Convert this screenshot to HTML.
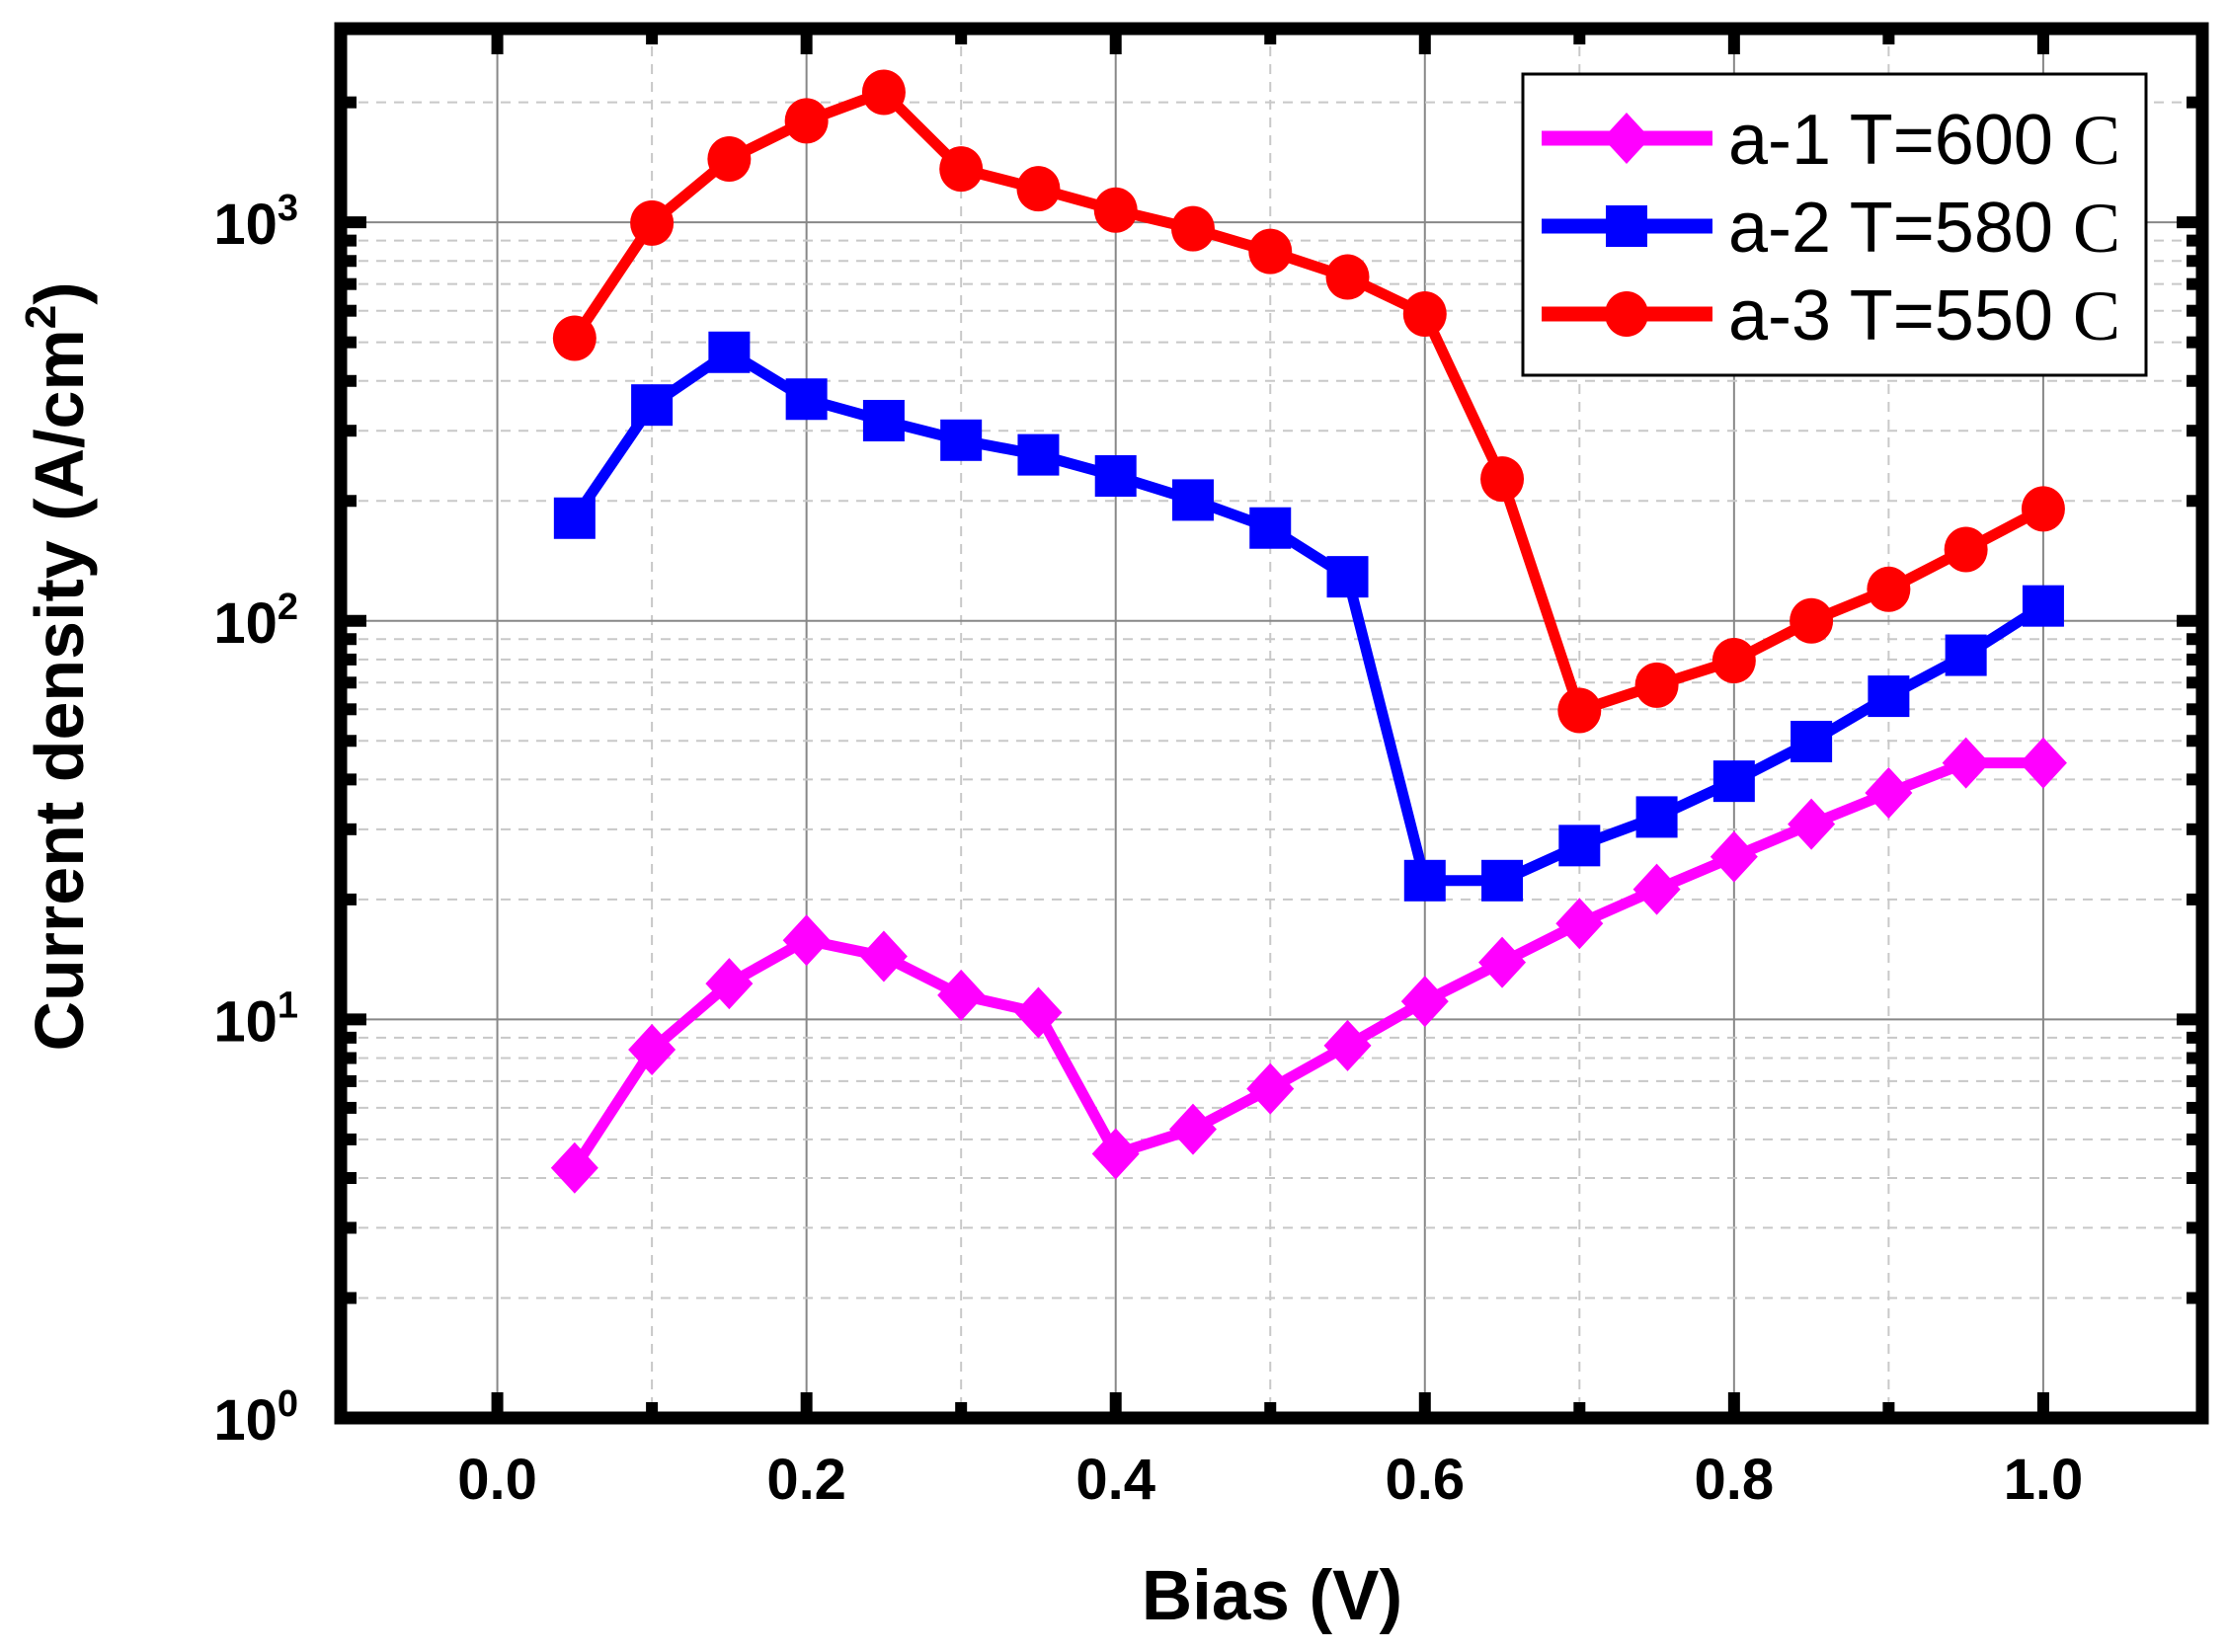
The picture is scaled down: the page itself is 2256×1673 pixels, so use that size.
<!DOCTYPE html>
<html><head><meta charset="utf-8"><style>
html,body{margin:0;padding:0;background:#fff;}
svg{display:block;font-family:"Liberation Sans",sans-serif;}
</style></head><body>
<svg id="chart" width="2256" height="1673" viewBox="0 0 2256 1673" xmlns="http://www.w3.org/2000/svg">
<g id="grid"></g>
<g id="series"></g>
<g id="frame"></g>
<g id="labels"></g>
<text x="1288" y="1640" font-size="71" font-weight="bold" text-anchor="middle">Bias (V)</text>
<text transform="translate(84,675) rotate(-90)" font-size="70" font-weight="bold" text-anchor="middle">Current density (A/cm<tspan font-size="44" dy="-28">2</tspan><tspan dy="28">)</tspan></text>
<g id="legend"></g>
</svg>
<script>
const biasValues = [0.05,0.1,0.15,0.2,0.25,0.3,0.35,0.4,0.45,0.5,0.55,0.6,0.65,0.7,0.75,0.8,0.85,0.9,0.95,1.0];
const seriesA1 = [4.24,8.4,12.3,15.8,14.4,11.5,10.4,4.6,5.3,6.7,8.6,11.1,13.9,17.4,21.2,25.6,30.9,37,44,44];
const seriesA2 = [181,348,472,360,318,284,261,231,201,171,129,22.3,22.3,27.3,32.2,39.6,49.8,64.7,82,109];
const seriesA3 = [512,996,1442,1797,2120,1361,1214,1073,964,845,729,589,227,59.6,69,79.5,100,120,151,191];
const xTicks = [0.0,0.2,0.4,0.6,0.8,1.0];
const xTickLabels = ["0.0","0.2","0.4","0.6","0.8","1.0"];
const yTickExps = [0,1,2,3];
const seriesNames = ["a-1 T=600 ","a-2 T=580 ","a-3 T=550 "];

const NS="http://www.w3.org/2000/svg";
const L=345,R=2230,T=29,B=1436;
const xMin=-0.1013,xMax=1.1029,yMinL=0,yMaxL=3.486;
const xs=v=>L+(v-xMin)/(xMax-xMin)*(R-L);
const ys=v=>B-(Math.log10(v)-yMinL)/(yMaxL-yMinL)*(B-T);
function mk(tag,attrs,parent){const e=document.createElementNS(NS,tag);for(const k in attrs)e.setAttribute(k,attrs[k]);parent.appendChild(e);return e;}
const grid=document.getElementById('grid'),frame=document.getElementById('frame'),labels=document.getElementById('labels'),series=document.getElementById('series'),legend=document.getElementById('legend');

for(let i=-1;i<=11;i++){const v=i/10;const x=xs(v);if(x<L+5||x>R-5)continue;const major=(i%2===0);
 const g=mk('line',{x1:x,x2:x,y1:T,y2:B,stroke:major?'#888':'#c8c8c8','stroke-width':2,'stroke-dasharray':major?'':'10,8'},grid);
 
 const len=major?26:16;
 mk('line',{x1:x,x2:x,y1:B,y2:B-len,stroke:'#000','stroke-width':12},frame);
 mk('line',{x1:x,x2:x,y1:T,y2:T+len,stroke:'#000','stroke-width':12},frame);
}
for(let e=0;e<=3;e++){for(let m=1;m<=9;m++){const v=m*Math.pow(10,e);const y=ys(v);if(y<T+5||y>B-2)continue;const major=(m===1);
 const g=mk('line',{x1:L,x2:R,y1:y,y2:y,stroke:major?'#888':'#c8c8c8','stroke-width':2,'stroke-dasharray':major?'':'10,8'},grid);
 
 const len=major?26:16;
 mk('line',{x1:L,x2:L+len,y1:y,y2:y,stroke:'#000','stroke-width':12},frame);
 mk('line',{x1:R,x2:R-len,y1:y,y2:y,stroke:'#000','stroke-width':12},frame);
}}
mk('rect',{x:L,y:T,width:R-L,height:B-T,fill:'none',stroke:'#000','stroke-width':13},frame);

xTicks.forEach((v,i)=>{const t=mk('text',{x:xs(v),y:1518,'font-size':58,'font-weight':'bold','text-anchor':'middle'},labels);t.textContent=xTickLabels[i];
 });
yTickExps.forEach(e=>{const y=ys(Math.pow(10,e));const t=mk('text',{x:302,y:y+22,'font-size':58,'font-weight':'bold','text-anchor':'end'},labels);
 t.textContent='10';const s=mk('tspan',{'font-size':38,dy:-24},t);s.textContent=String(e);
 });

function marker(type,x,y,color,parent){
 if(type==='diamond')return mk('polygon',{points:`${x},${y-26} ${x+24},${y} ${x},${y+26} ${x-24},${y}`,fill:color},parent);
 if(type==='square')return mk('rect',{x:x-21,y:y-21,width:42,height:42,fill:color},parent);
 return mk('ellipse',{cx:x,cy:y,rx:22,ry:23,fill:color},parent);
}
const defs=[[seriesA1,'#ff00ff','diamond','series-a1'],[seriesA2,'#0000ff','square','series-a2'],[seriesA3,'#ff0000','circle','series-a3']];
defs.forEach(([vals,color,type,name])=>{
 const g=mk('g',{},series);
 const pts=biasValues.map((b,i)=>xs(b)+','+ys(vals[i])).join(' ');
 const pl=mk('polyline',{points:pts,fill:'none',stroke:color,'stroke-width':11,'stroke-linejoin':'round'},g);
 
 biasValues.forEach((b,i)=>{const m=marker(type,xs(b),ys(vals[i]),color,g);
  });
});

const lb=mk('rect',{x:1542,y:75,width:631,height:305,fill:'#fff',stroke:'#000','stroke-width':3},legend);

const ly=[140,229,318];
defs.forEach(([vals,color,type,name],i)=>{
 const g=mk('g',{},legend);
 mk('line',{x1:1561,x2:1734,y1:ly[i],y2:ly[i],stroke:color,'stroke-width':15},g);
 marker(type,1647,ly[i],color,g);
 const t=mk('text',{x:1750,y:ly[i]+26,'font-size':72},g);t.textContent=seriesNames[i];
 const c=mk('tspan',{'font-family':'"Liberation Serif",serif'},t);c.textContent='C';
});
</script>
</body></html>
